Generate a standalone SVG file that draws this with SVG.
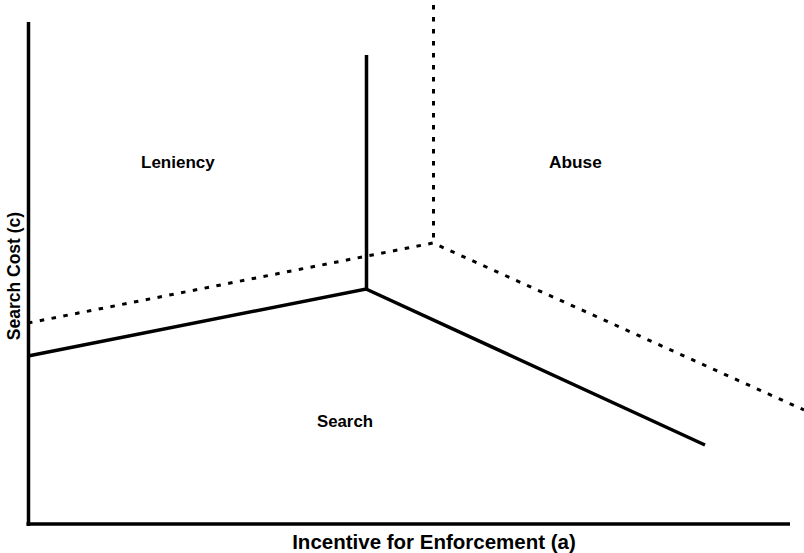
<svg xmlns="http://www.w3.org/2000/svg" width="804" height="553" viewBox="0 0 804 553">
<style>
.lbl{font-family:"Liberation Sans",Arial,sans-serif;font-weight:bold;fill:#000}
.solid{stroke:#000;stroke-width:3.5;fill:none;stroke-linecap:butt;stroke-linejoin:miter}
.dash{stroke:#000;stroke-width:3;fill:none;stroke-dasharray:4.5 7.5}
</style>
<rect width="804" height="553" fill="#fff"/>
<g id="connectors">
<line id="y-axis" class="solid" x1="28.5" y1="22" x2="28.5" y2="526" stroke-width="4"/>
<line id="x-axis" class="solid" x1="26.5" y1="524" x2="790" y2="524" stroke-width="4"/>
<polyline class="dash" points="28,323 433,243 804,410"/>
<line class="dash" x1="433.5" y1="5" x2="433.5" y2="243"/>
<polyline class="solid" points="28,356 366,289 705,445"/>
<line class="solid" x1="366.5" y1="55" x2="366.5" y2="290"/>
</g>
<g id="leniency"><text class="lbl" x="141" y="168" font-size="17">Leniency</text></g>
<g id="abuse"><text class="lbl" x="549" y="168" font-size="17.3">Abuse</text></g>
<g id="search"><text class="lbl" x="317" y="427" font-size="16.8">Search</text></g>
<g id="x-label"><text class="lbl" x="434" y="549" font-size="20.5" text-anchor="middle">Incentive for Enforcement (a)</text></g>
<g id="y-label"><text class="lbl" transform="translate(20,276) rotate(-90)" x="0" y="0" font-size="17.5" text-anchor="middle">Search Cost (c)</text></g>
</svg>
